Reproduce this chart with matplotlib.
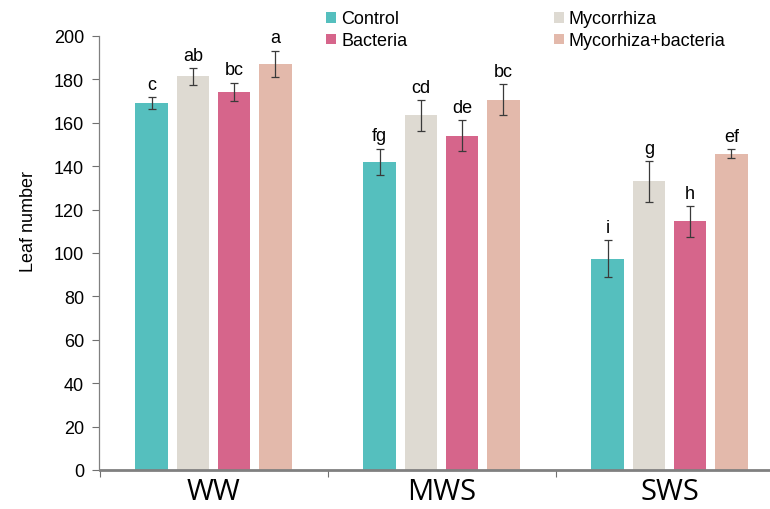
import numpy as np
import matplotlib
matplotlib.use('Agg')
import matplotlib.pyplot as plt

# Leaf number per water regime and inoculation treatment (mean +/- SE)
regimes = ['WW', 'MWS', 'SWS']
treatments = ['Control', 'Mycorrhiza', 'Bacteria', 'Mycorhiza+bacteria']

control = [169.0, 142.0, 97.4]
mycorrhiza = [181.4, 163.4, 133.0]
bacteria = [174.3, 154.1, 114.7]
myco_bact = [187.1, 170.6, 145.8]

control_err = [2.7, 6.1, 8.5]
mycorrhiza_err = [4.0, 7.2, 9.5]
bacteria_err = [4.2, 7.0, 7.1]
myco_bact_err = [6.2, 7.2, 2.0]

control_lbl = ['c', 'fg', 'i']
mycorrhiza_lbl = ['ab', 'cd', 'g']
bacteria_lbl = ['bc', 'de', 'h']
myco_bact_lbl = ['a', 'bc', 'ef']

colors = ['#55bfbe', '#dedad2', '#d6658b', '#e3b9ab']

series = [
    (control, control_err, control_lbl),
    (mycorrhiza, mycorrhiza_err, mycorrhiza_lbl),
    (bacteria, bacteria_err, bacteria_lbl),
    (myco_bact, myco_bact_err, myco_bact_lbl),
]

plt.rcParams['font.family'] = ['Liberation Sans', 'DejaVu Sans']

fig = plt.figure(figsize=(7.7, 5.1), dpi=100)
ax = fig.add_axes([99.5 / 770, 39 / 510, 684 / 770, 434 / 510])

x = np.arange(len(regimes))
step = 0.181
width = 0.1425

handles = []
for i, (vals, errs, lbls) in enumerate(series):
    pos = x + (i - 1.5) * step
    b = ax.bar(pos, vals, width, color=colors[i], label=treatments[i], zorder=2)
    handles.append(b)
    ax.errorbar(pos, vals, yerr=errs, fmt='none', ecolor='#3a3a3a',
                elinewidth=0.9, capsize=3, capthick=0.9, zorder=3)
    for px, v, e, t in zip(pos, vals, errs, lbls):
        ax.annotate(t, (px, v + e), xytext=(0, 3), textcoords='offset points',
                    ha='center', va='bottom', fontsize=13)

ax.set_xlim(-0.5, 2.5)
ax.set_ylim(0, 200)
ax.set_yticks(np.arange(0, 201, 20))
ax.tick_params(axis='y', labelsize=13, length=5, color='#707070', pad=6)

# group separators on the category axis
ax.set_xticks([-0.5, 0.5, 1.5])
ax.set_xticklabels([])
ax.tick_params(axis='x', length=5, color='#707070', direction='out')
ax.set_xticks(x, minor=True)
ax.set_xticklabels(regimes, minor=True, fontsize=21, family=['Open Sans', 'DejaVu Sans'])
ax.tick_params(axis='x', which='minor', length=0, pad=5)

for s in ['top', 'right']:
    ax.spines[s].set_visible(False)
ax.spines['left'].set_color('#808080')
ax.spines['left'].set_linewidth(0.9)
ax.spines['bottom'].set_color('#808080')
ax.spines['bottom'].set_linewidth(2)

ax.set_ylabel('Leaf number', fontsize=13)
ax.yaxis.label.set_verticalalignment('center')
ax.yaxis.set_label_coords(-0.104, 0.576)

order = [0, 2, 1, 3]
fig.legend([handles[k] for k in order], [treatments[k] for k in order],
           ncol=2, loc='upper left', bbox_to_anchor=(316 / 770, 0.997),
           frameon=False, fontsize=13, handlelength=0.55, handleheight=0.55,
           handletextpad=0.3, columnspacing=8.1, labelspacing=0.27,
           borderaxespad=0.15)

fig.savefig('out.png', dpi=100)
